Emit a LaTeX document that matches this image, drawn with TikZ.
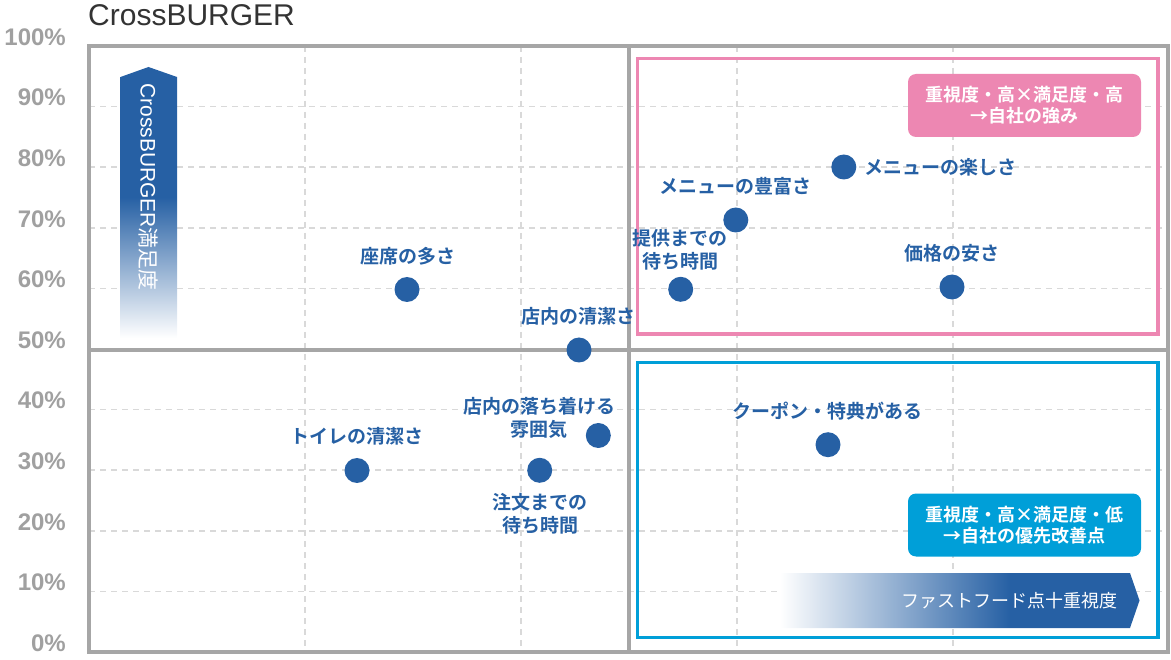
\documentclass[tikz,border=0pt]{standalone}
\usepackage{fontspec}
\setmainfont{Noto Sans CJK JP}[BoldFont={Noto Sans CJK JP Bold}]
\newfontfamily\latinfont{Liberation Sans}
\definecolor{dotblue}{RGB}{38,96,164}
\definecolor{strongpink}{RGB}{237,135,178}
\definecolor{fixcyan}{RGB}{0,159,216}
\definecolor{framegray}{RGB}{166,166,166}
\definecolor{gridgray}{RGB}{217,217,217}
\definecolor{tickgray}{RGB}{160,160,160}
\definecolor{titlegray}{RGB}{51,51,51}
\pgfdeclarehorizontalshading{importfade}{100bp}{color(0bp)=(white); color(25bp)=(white); color(57bp)=(dotblue); color(100bp)=(dotblue)}
\pgfdeclareverticalshading{satisfade}{100bp}{color(0bp)=(white); color(25bp)=(white); color(51bp)=(dotblue); color(100bp)=(dotblue)}

\begin{document}
\begin{tikzpicture}[x=1pt,y=-1pt,
  dot/.style={circle,fill=dotblue,inner sep=0pt,minimum size=25pt},
  lbl/.style={text=dotblue,font=\fontsize{19}{23}\selectfont\bfseries,align=center,inner sep=0pt},
  ticklbl/.style={text=tickgray,font=\latinfont\fontsize{24}{24}\selectfont\bfseries,anchor=east,inner sep=0pt},
  gridline/.style={gridgray,line width=1.5pt,dash pattern=on 6pt off 5pt},
  axisline/.style={framegray,line width=3.5pt},
  zone/.style={line width=3.5pt},
  tag/.style={rounded corners=8pt,text=white,font=\fontsize{18}{21}\selectfont\bfseries,align=center,minimum width=233pt,minimum height=63pt}]
\useasboundingbox (0,0) rectangle (1171,660);

\node[anchor=west,inner sep=0pt,text=titlegray,font=\latinfont\fontsize{30}{30}\selectfont] (title) at (88,15) {CrossBURGER};

% grid
\foreach \k in {1,2,3,4,6,7,8,9}
  \draw[gridline] (89,{652-60.6*\k}) -- (1168,{652-60.6*\k});
\foreach \x in {305,521,737,953}
  \draw[gridline] (\x,46) -- (\x,652);

% zones
\draw[zone,strongpink] (637.5,58.5) rectangle (1158,334);
\draw[zone,fixcyan] (637.5,362.5) rectangle (1158,637.5);

% frame and axes
\draw[axisline] (89,46) rectangle (1168,652);
\draw[axisline] (629,46) -- (629,652);
\draw[axisline] (89,350) -- (1168,350);

\foreach \k [evaluate=\k as \p using int(10*\k)] in {0,...,10}
  \node[ticklbl] (t\p) at (66,{643-60.6*\k}) {\p\%};

% satisfaction arrow
\shade[shading=satisfade] (120.5,77) -- (148.5,67) -- (177,77) -- (177,338) -- (120.5,338) -- cycle;
\node[rotate=-90,anchor=west,inner sep=0pt,text=white,font=\fontsize{21}{21}\selectfont] (ylbl) at (148.5,83) {{\latinfont CrossBURGER}満足度};

% importance arrow
\shade[shading=importfade] (780,573) -- (1130,573) -- (1139.5,600.5) -- (1130,628) -- (780,628) -- cycle;
\node[anchor=east,inner sep=0pt,text=white,font=\fontsize{18}{18}\selectfont] (xlbl) at (1118,600.5) {ファストフード点十重視度};

\node[tag,fill=strongpink] (strong) at (1024.5,105.5) {重視度・高×満足度・高\\→自社の強み};
\node[tag,fill=fixcyan] (fix) at (1024.5,525) {重視度・高×満足度・低\\→自社の優先改善点};

% items
\node[dot] (seat) at (407,289.5) {};
\node[dot] (clean) at (579,350) {};
\node[dot] (toilet) at (357,470.5) {};
\node[dot] (calm) at (598.3,435.5) {};
\node[dot] (order) at (539.7,470.3) {};
\node[dot] (serve) at (680.7,289.3) {};
\node[dot] (variety) at (735.8,220) {};
\node[dot] (fun) at (843.8,167) {};
\node[dot] (price) at (952,287) {};
\node[dot] (coupon) at (828,444.7) {};

\node[lbl] (seatlbl) at (407.5,256) {座席の多さ};
\node[lbl] (cleanlbl) at (578,316.7) {店内の清潔さ};
\node[lbl] (toiletlbl) at (357,436.7) {トイレの清潔さ};
\node[lbl] (calmlbl) at (539,417.5) {店内の落ち着ける\\雰囲気};
\node[lbl] (orderlbl) at (540,514) {注文までの\\待ち時間};
\node[lbl] (servelbl) at (680,249.5) {提供までの\\待ち時間};
\node[lbl] (varietylbl) at (735.5,186.7) {メニューの豊富さ};
\node[lbl,anchor=west] (funlbl) at (864.6,167.7) {メニューの楽しさ};
\node[lbl] (pricelbl) at (952,253) {価格の安さ};
\node[lbl] (couponlbl) at (827.7,411) {クーポン・特典がある};
\end{tikzpicture}
\end{document}
